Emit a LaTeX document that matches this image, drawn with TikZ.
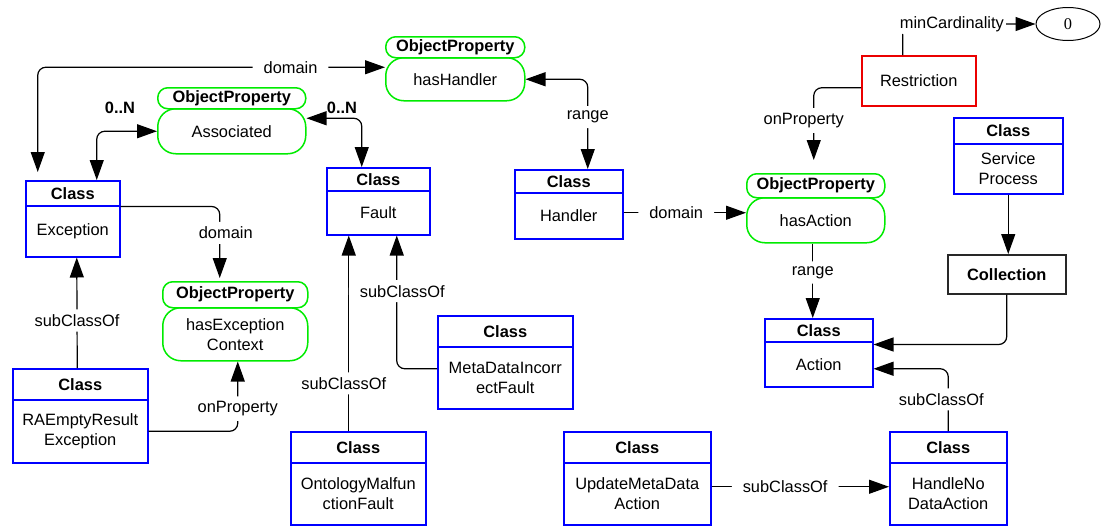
\documentclass[tikz,border=0pt]{standalone}
\usepackage{fontspec}
\setmainfont{Liberation Sans}
\newfontfamily\numfont{Liberation Serif}
\usetikzlibrary{arrows.meta,shapes.geometric}

\definecolor{clsblue}{RGB}{0,0,255}
\definecolor{propgreen}{RGB}{0,235,0}
\definecolor{restred}{RGB}{235,0,0}
\definecolor{colgray}{RGB}{40,40,40}

\newcommand\txtsize{\fontsize{16.4}{20}\selectfont}

\tikzset{
  nodebase/.style={anchor=north west, inner sep=0pt, align=center, font=\txtsize, line width=1.5pt},
  clshead/.style={nodebase, draw=clsblue, font=\txtsize\bfseries},
  clsbody/.style={nodebase, draw=clsblue},
  prophead/.style={nodebase, draw=propgreen, rounded corners=10pt, font=\txtsize\bfseries},
  propbody/.style={nodebase, draw=propgreen, rounded corners=18pt},
  restrbox/.style={nodebase, draw=restred},
  collbox/.style={nodebase, draw=colgray, font=\txtsize\bfseries},
  conn/.style={draw=black, line width=1.2pt, rounded corners=8pt},
  endtip/.style={-{Triangle[length=20pt,width=14pt]}},
  bothtips/.style={{Triangle[length=20pt,width=14pt]}-{Triangle[length=20pt,width=14pt]}},
  lbl/.style={fill=white, font=\txtsize, inner xsep=11pt, inner ysep=5pt},
  mult/.style={font=\txtsize\bfseries, inner sep=0pt},
}

% class box: name, x1, ytop, x2, ydivider, ybottom, body text
\newcommand\classbox[7]{%
  \node[clshead, minimum width={#4-#2}, minimum height={#5-#3}] (#1h) at (#2,#3) {Class};
  \node[clsbody, minimum width={#4-#2}, minimum height={#6-#5}] (#1) at (#2,#5) {#7};
}
% object property pill: name, x1, x2, ytop, ydivider, ybottom, body text
\newcommand\propbox[7]{%
  \node[prophead, minimum width={#3-#2}, minimum height={#5-#4}] (#1h) at (#2,#4) {ObjectProperty};
  \node[propbody, minimum width={#3-#2}, minimum height={#6-#5}] (#1) at (#2,#5) {#7};
}

\begin{document}
\begin{tikzpicture}[x=1pt,y=-1pt]
\useasboundingbox (0,0) rectangle (1103,525);

% classes
\classbox{exc}{25}{180}{119}{205}{256}{Exception}
\classbox{fault}{326}{167}{429}{190}{234}{Fault}
\classbox{handler}{514}{169}{622}{192}{238}{Handler}
\classbox{service}{953}{117}{1062}{143}{193}{Service\\Process}
\classbox{action}{764}{318}{872}{341}{386}{Action}
\classbox{raempty}{12}{368}{147}{399}{462}{RAEmptyResult\\Exception}
\classbox{meta}{437}{315}{572}{346}{408}{MetaDataIncorr\\ectFault}
\classbox{onto}{290}{431}{425}{462}{524}{OntologyMalfun\\ctionFault}
\classbox{update}{563}{431}{710}{462}{524}{UpdateMetaData\\Action}
\classbox{handleno}{889}{431}{1006}{462}{524}{HandleNo\\DataAction}

% object properties
\propbox{assoc}{157}{305}{87}{108}{153}{Associated}
\propbox{hashandler}{385}{524}{36}{57}{100}{hasHandler}
\propbox{hasaction}{746}{884}{173}{197}{242}{hasAction}
\propbox{hasexc}{162}{307}{281}{307}{360}{hasException\\Context}

% other nodes
\node[restrbox, minimum width=114, minimum height=50] (restr) at (861,55) {Restriction};
\node[collbox, minimum width=118, minimum height=39] (coll) at (947,254) {Collection};
\node[draw, ellipse, line width=1pt, minimum width=64, minimum height=33, inner sep=0pt,
      font=\numfont\txtsize] (zero) at (1068,24) {0};

% connectors
\draw[conn,bothtips] ([yshift=12pt]hashandler.west) -| ([xshift=-35pt,yshift=8pt]exch.north)
  node[lbl,pos=0.136] (l1) {domain};
\draw[conn,bothtips] (assoc.west) -| ([xshift=24pt]exch.north);
\node[mult] (m1) at (120,108) {0..N};
\draw[conn,bothtips] ([yshift=13pt]assoc.east) -| ([xshift=-16.5pt]faulth.north);
\node[mult] (m2) at (342,108) {0..N};
\draw[conn,bothtips] (hashandler.east) -| ([xshift=19pt]handlerh.north)
  node[lbl,pos=0.711] (l2) {range};
\draw[conn,endtip] ([yshift=3pt]handler.east) coordinate (hd) -- (hd -| hasaction.west)
  node[lbl,pos=0.43] (l3) {domain};
\draw[conn,endtip] (exch.south east) -| ([xshift=-15.5pt,yshift=3pt]hasexch.north)
  node[lbl,pos=0.685,xshift=6pt] (l4) {domain};
\draw[conn,endtip] ([xshift=-3pt]raemptyh.north) -- ([xshift=4pt]exc.south)
  node[lbl,pos=0.43] (l5) {subClassOf};
\draw[conn,endtip] (raempty.east) -| ([xshift=2.5pt]hasexc.south)
  node[lbl,pos=0.662] (l6) {onProperty};
\draw[conn,endtip] ([xshift=-9.5pt]ontoh.north) -- ([xshift=-29.5pt]fault.south)
  node[lbl,pos=0.244,xshift=-5pt] (l7) {subClassOf};
\draw[conn,endtip] ([yshift=9pt]meta.west) -| ([xshift=18.5pt]fault.south)
  node[lbl,pos=0.791,xshift=5.5pt] (l8) {subClassOf};
\draw[conn,endtip] ([xshift=-16pt]restr.north) |- (zero.west)
  node[lbl,pos=0.685,inner xsep=2pt,inner ysep=3pt] (l9) {minCardinality};
\draw[conn,endtip] ([yshift=-7pt]restr.west) -| ([xshift=-2pt,yshift=13pt]hasactionh.north)
  node[lbl,pos=0.726,xshift=-10pt] (l10) {onProperty};
\draw[conn,endtip] ([xshift=-3pt]hasaction.south) -- ([xshift=-6pt]actionh.north)
  node[lbl,pos=0.39] (l11) {range};
\draw[conn,endtip] (service.south) -- (service.south |- coll.north);
\draw[conn,endtip] (coll.south) |- ([yshift=-2pt]actionh.south east);
\draw[conn,endtip] (handlenoh.north) |- ([yshift=-4.5pt]action.east)
  node[lbl,pos=0.254,xshift=-7pt] (l12) {subClassOf};
\draw[conn,endtip] ([yshift=7pt]update.east) coordinate (ue) -- (ue -| handleno.west)
  node[lbl,pos=0.415] (l13) {subClassOf};
\end{tikzpicture}
\end{document}
